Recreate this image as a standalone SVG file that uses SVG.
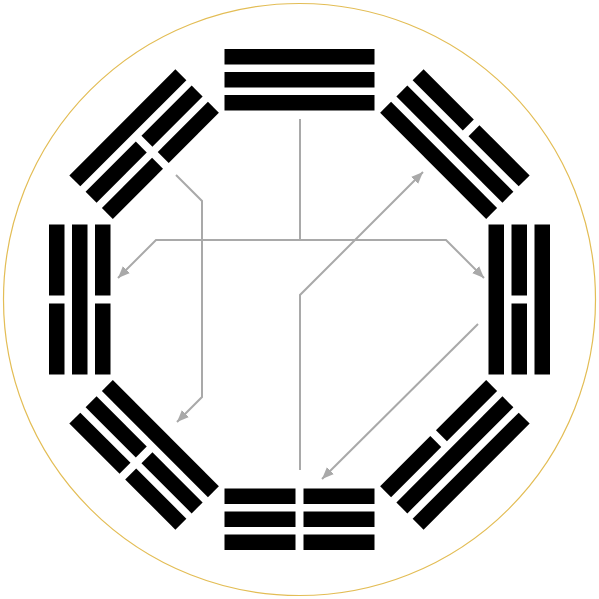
<svg xmlns="http://www.w3.org/2000/svg" width="599" height="599" viewBox="0 0 599 599">
<defs>
<style>
.bar{fill:#000}
.conn{fill:none;stroke:#a9a9a9;stroke-width:2;marker-end:url(#arr)}
.ring{fill:none;stroke:#e3bd55;stroke-width:1.2}
</style>
<marker id="arr" viewBox="0 0 12 10" refX="12" refY="5" markerWidth="12" markerHeight="10" markerUnits="userSpaceOnUse" orient="auto">
<path d="M0,0 L12,5 L0,10 Z" fill="#a9a9a9"/>
</marker>
<g id="solid-o"><rect class="bar" x="-75" y="-250.5" width="150" height="15.5"/></g>
<g id="solid-m"><rect class="bar" x="-75" y="-227.5" width="150" height="15.5"/></g>
<g id="solid-i"><rect class="bar" x="-75" y="-204.5" width="150" height="15.5"/></g>
<g id="broken-o"><rect class="bar" x="-75" y="-250.5" width="71" height="15.5"/><rect class="bar" x="4" y="-250.5" width="71" height="15.5"/></g>
<g id="broken-m"><rect class="bar" x="-75" y="-227.5" width="71" height="15.5"/><rect class="bar" x="4" y="-227.5" width="71" height="15.5"/></g>
<g id="broken-i"><rect class="bar" x="-75" y="-204.5" width="71" height="15.5"/><rect class="bar" x="4" y="-204.5" width="71" height="15.5"/></g>
</defs>
<rect width="599" height="599" fill="#fff"/>
<circle class="ring" cx="299.5" cy="299.5" r="296"/>
<g id="trigram-top" transform="translate(299.5 299.5) rotate(0)">
<use href="#solid-o"/><use href="#solid-m"/><use href="#solid-i"/>
</g>
<g id="trigram-topright" transform="translate(299.5 299.5) rotate(45)">
<use href="#broken-o"/><use href="#solid-m"/><use href="#solid-i"/>
</g>
<g id="trigram-right" transform="translate(299.5 299.5) rotate(90)">
<use href="#solid-o"/><use href="#broken-m"/><use href="#solid-i"/>
</g>
<g id="trigram-bottomright" transform="translate(299.5 299.5) rotate(135)">
<use href="#solid-o"/><use href="#solid-m"/><use href="#broken-i"/>
</g>
<g id="trigram-bottom" transform="translate(299.5 299.5) rotate(180)">
<use href="#broken-o"/><use href="#broken-m"/><use href="#broken-i"/>
</g>
<g id="trigram-bottomleft" transform="translate(299.5 299.5) rotate(225)">
<use href="#broken-o"/><use href="#broken-m"/><use href="#solid-i"/>
</g>
<g id="trigram-left" transform="translate(299.5 299.5) rotate(270)">
<use href="#broken-o"/><use href="#solid-m"/><use href="#broken-i"/>
</g>
<g id="trigram-topleft" transform="translate(299.5 299.5) rotate(315)">
<use href="#solid-o"/><use href="#broken-m"/><use href="#broken-i"/>
</g>
<g id="connectors">
<path class="conn" d="M300,119 V240 H156 L118,278"/>
<path class="conn" d="M300,119 V240 H446 L484,278"/>
<path class="conn" d="M176,175 L202,201 V397 L177,422"/>
<path class="conn" d="M300,470 V295 L423,172"/>
<path class="conn" d="M478,324 L322,479"/>
</g>
</svg>
